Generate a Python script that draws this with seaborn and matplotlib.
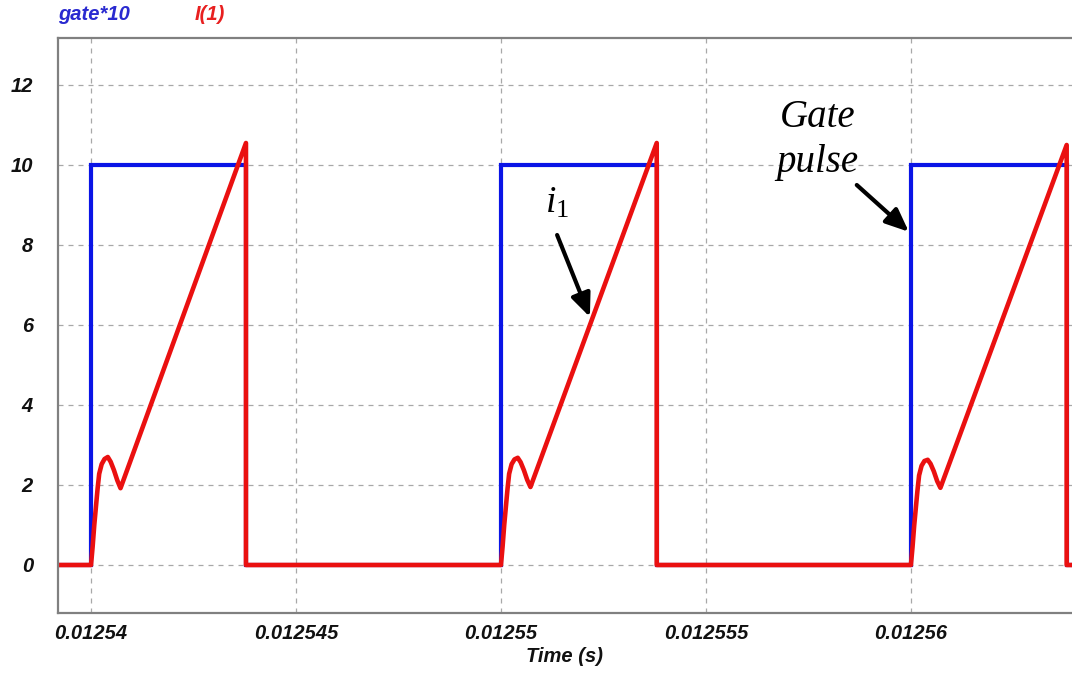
import matplotlib
matplotlib.use("Agg")
import matplotlib.pyplot as plt
import seaborn as sns
import pandas as pd

# ---------------- data (time in microseconds, converted to seconds) ----------------
gate_time_us = [12539.19, 12540.00, 12540.00, 12543.78, 12543.78,
                12550.00, 12550.00, 12553.80, 12553.80,
                12560.00, 12560.00, 12563.80, 12563.80, 12563.93]
gate_value = [0, 0, 10, 10, 0,
              0, 10, 10, 0,
              0, 10, 10, 0, 0]

current_time_us = [12539.19,
                   12540.00, 12540.04, 12540.08, 12540.12, 12540.16, 12540.20, 12540.26, 12540.33, 12540.41,
                   12540.48, 12540.56, 12540.64, 12540.72, 12543.78, 12543.78,
                   12550.00, 12550.04, 12550.08, 12550.12, 12550.16, 12550.20, 12550.26, 12550.33, 12550.41,
                   12550.48, 12550.56, 12550.64, 12550.72, 12553.80, 12553.80,
                   12560.00, 12560.04, 12560.08, 12560.12, 12560.16, 12560.20, 12560.26, 12560.33, 12560.41,
                   12560.48, 12560.56, 12560.64, 12560.72, 12563.80, 12563.80,
                   12563.93]
current_value = [0,
                 0, 0.46, 1.00, 1.45, 1.90, 2.28, 2.52, 2.65, 2.70,
                 2.58, 2.37, 2.12, 1.92, 10.55, 0,
                 0, 0.46, 1.00, 1.45, 1.90, 2.28, 2.52, 2.64, 2.68,
                 2.57, 2.37, 2.13, 1.95, 10.55, 0,
                 0, 0.45, 0.98, 1.42, 1.86, 2.24, 2.48, 2.60, 2.63,
                 2.53, 2.34, 2.10, 1.93, 10.50, 0,
                 0]

x_tick_values = [0.01254, 0.012545, 0.01255, 0.012555, 0.01256]
x_tick_labels = ["0.01254", "0.012545", "0.01255", "0.012555", "0.01256"]
y_tick_values = [0, 2, 4, 6, 8, 10, 12]
y_tick_labels = ["0", "2", "4", "6", "8", "10", "12"]

series_names = ["gate*10", "I(1)"]
x_label = "Time (s)"

# annotation anchors (time in us, value)
gate_text_pos = (12557.72, 10.62)
gate_arrow_tail = (12558.68, 9.50)
gate_arrow_tip = (12559.95, 8.33)
i1_text_pos = (12551.38, 9.05)
i1_arrow_tail = (12551.37, 8.25)
i1_arrow_tip = (12552.17, 6.20)

x_limits_us = (12539.195, 12563.93)
y_limits = (-1.2, 13.175)

# ---------------- build frames ----------------
us = 1e-6
gate_df = pd.DataFrame({"t": [v * us for v in gate_time_us], "v": gate_value})
cur_df = pd.DataFrame({"t": [v * us for v in current_time_us], "v": current_value})

sns.set_theme(style="white")
plt.rcParams["font.family"] = ["Liberation Sans", "DejaVu Sans"]
plt.rcParams["mathtext.fontset"] = "custom"
plt.rcParams["mathtext.it"] = "Liberation Serif:italic"
plt.rcParams["mathtext.rm"] = "Liberation Serif"

BLUE = "#0a14e6"
RED = "#ea1010"
FS = 14.5

fig = plt.figure(figsize=(10.72, 6.74), dpi=100)
ax = fig.add_axes([58 / 1072, 1 - 613 / 674, 1 - 58 / 1072, (613 - 38) / 674])

sns.lineplot(data=gate_df, x="t", y="v", sort=False, estimator=None,
             color=BLUE, lw=3.0, ax=ax, solid_joinstyle="miter")
sns.lineplot(data=cur_df, x="t", y="v", sort=False, estimator=None,
             color=RED, lw=3.3, ax=ax, solid_joinstyle="round")

ax.set_xlim(x_limits_us[0] * us, x_limits_us[1] * us)
ax.set_ylim(*y_limits)

ax.set_xticks(x_tick_values)
ax.set_xticklabels(x_tick_labels)
ax.set_yticks(y_tick_values)
ax.set_yticklabels(y_tick_labels)

for lab in ax.get_xticklabels() + ax.get_yticklabels():
    lab.set_fontsize(FS)
    lab.set_fontweight("bold")
    lab.set_fontstyle("italic")
    lab.set_color("#111111")

ax.tick_params(axis="both", length=0)
ax.tick_params(axis="y", pad=18)
ax.tick_params(axis="x", pad=8)

ax.set_xlabel(x_label, fontsize=FS, fontweight="bold", fontstyle="italic",
              color="#111111", labelpad=3)
ax.set_ylabel("")

ax.grid(True, color="#a8a8a8", linestyle=(0, (4, 4)), linewidth=0.9)
ax.set_axisbelow(True)

for side in ["left", "top", "bottom"]:
    ax.spines[side].set_color("#808080")
    ax.spines[side].set_linewidth(1.6)
ax.spines["right"].set_visible(False)

# legend-like series names at top
fig.text(58 / 1072, 1 - 15 / 674, series_names[0], color="#2a2ad0", fontsize=FS,
         fontweight="bold", fontstyle="italic", ha="left", va="center")
fig.text(195 / 1072, 1 - 15 / 674, series_names[1], color="#e82020", fontsize=FS,
         fontweight="bold", fontstyle="italic", ha="left", va="center")

arrow_props = dict(arrowstyle="-|>,head_length=0.7,head_width=0.3", color="black",
                   lw=3, mutation_scale=20, shrinkA=0, shrinkB=0)

ax.annotate("", xy=(gate_arrow_tip[0] * us, gate_arrow_tip[1]),
            xytext=(gate_arrow_tail[0] * us, gate_arrow_tail[1]),
            arrowprops=arrow_props)
ax.text(gate_text_pos[0] * us, gate_text_pos[1], "Gate\npulse", ha="center", va="center",
        family=["Liberation Serif"], fontstyle="italic", fontsize=28, linespacing=1.3,
        color="black")

ax.annotate("", xy=(i1_arrow_tip[0] * us, i1_arrow_tip[1]),
            xytext=(i1_arrow_tail[0] * us, i1_arrow_tail[1]),
            arrowprops=arrow_props)
ax.text(i1_text_pos[0] * us, i1_text_pos[1], r"$i_{\mathit{1}}$", ha="center", va="center",
        fontsize=27, color="black")

fig.savefig("out.png", dpi=100)
